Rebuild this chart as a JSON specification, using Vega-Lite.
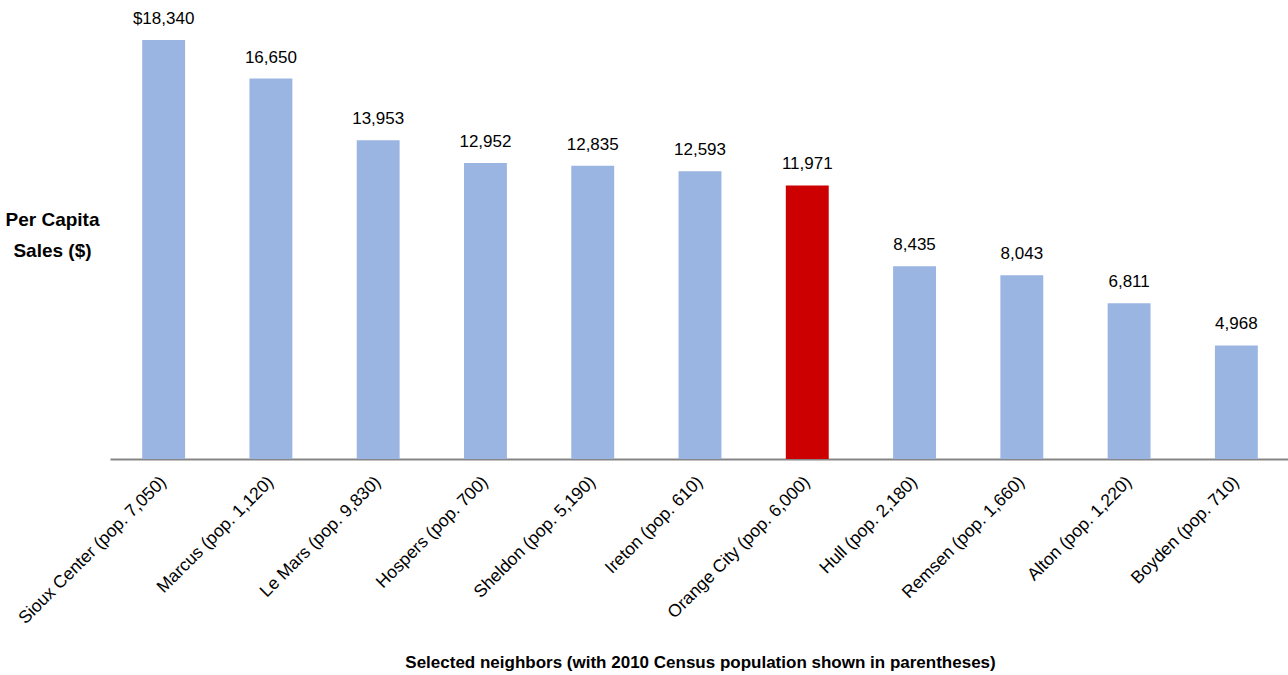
{
  "$schema": "https://vega.github.io/schema/vega-lite/v6.json",
  "width": 1180,
  "height": 457,
  "autosize": {"type": "none"},
  "padding": {"left": 110, "top": 2, "right": 0, "bottom": 216},
  "background": "white",
  "config": {
    "view": {"stroke": null},
    "font": "Liberation Sans"
  },
  "data": {
    "values": [
      {"place": "Sioux Center  (pop. 7,050)", "sales": 18340, "label": "$18,340", "home": false},
      {"place": "Marcus  (pop. 1,120)", "sales": 16650, "label": "16,650", "home": false},
      {"place": "Le Mars  (pop. 9,830)", "sales": 13953, "label": "13,953", "home": false},
      {"place": "Hospers (pop. 700)", "sales": 12952, "label": "12,952", "home": false},
      {"place": "Sheldon (pop. 5,190)", "sales": 12835, "label": "12,835", "home": false},
      {"place": "Ireton (pop. 610)", "sales": 12593, "label": "12,593", "home": false},
      {"place": "Orange City  (pop. 6,000)", "sales": 11971, "label": "11,971", "home": true},
      {"place": "Hull  (pop. 2,180)", "sales": 8435, "label": "8,435", "home": false},
      {"place": "Remsen  (pop. 1,660)", "sales": 8043, "label": "8,043", "home": false},
      {"place": "Alton  (pop. 1,220)", "sales": 6811, "label": "6,811", "home": false},
      {"place": "Boyden  (pop. 710)", "sales": 4968, "label": "4,968", "home": false}
    ]
  },
  "encoding": {
    "x": {
      "field": "place",
      "type": "nominal",
      "sort": null,
      "scale": {"paddingInner": 0.6, "paddingOuter": 0.3},
      "axis": {
        "title": "Selected neighbors (with 2010 Census population shown in parentheses)",
        "titleFont": "Liberation Sans",
        "titleFontSize": 17,
        "titleFontWeight": "bold",
        "titleColor": "#000000",
        "titleY": 203,
        "titleBaseline": "middle",
        "labelAngle": -45,
        "labelAlign": "right",
        "labelBaseline": "middle",
        "labelFontSize": 17.5,
        "labelColor": "#000000",
        "labelPadding": 20,
        "labelLimit": 400,
        "ticks": false,
        "domainColor": "#868686",
        "domainWidth": 2
      }
    },
    "y": {
      "field": "sales",
      "type": "quantitative",
      "scale": {"domain": [0, 20000], "nice": false},
      "axis": {
        "title": ["Per Capita", "Sales ($)"],
        "titleAngle": 0,
        "titleAlign": "center",
        "titleBaseline": "middle",
        "titleX": -58,
        "titleY": 217,
        "titleLineHeight": 31,
        "titleFontSize": 19,
        "titleFontWeight": "bold",
        "titleColor": "#000000",
        "labels": false,
        "ticks": false,
        "domain": false,
        "grid": false
      }
    }
  },
  "layer": [
    {
      "mark": {"type": "bar"},
      "encoding": {
        "color": {
          "field": "home",
          "type": "nominal",
          "scale": {"domain": [false, true], "range": ["#9BB5E3", "#CC0000"]},
          "legend": null
        }
      }
    },
    {
      "mark": {"type": "text", "baseline": "bottom", "dy": -12, "fontSize": 17, "color": "#000000"},
      "encoding": {"text": {"field": "label"}}
    }
  ]
}
